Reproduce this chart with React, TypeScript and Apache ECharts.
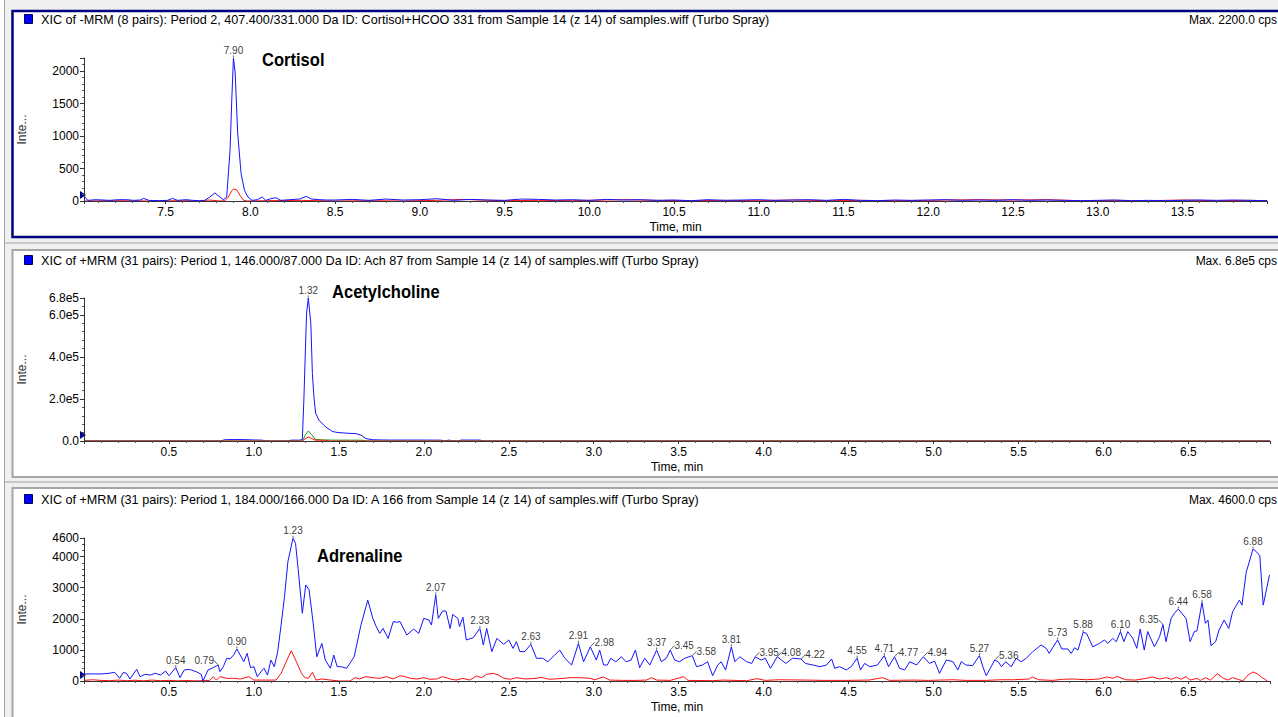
import React, { useEffect, useRef } from "react";
import * as echarts from "echarts";

const FONT = "'Liberation Sans', Arial, sans-serif";

const headerTexts = [
  "XIC of -MRM (8 pairs): Period 2, 407.400/331.000 Da ID: Cortisol+HCOO 331 from Sample 14 (z 14) of samples.wiff (Turbo Spray)",
  "XIC of +MRM (31 pairs): Period 1, 146.000/87.000 Da ID: Ach 87 from Sample 14 (z 14) of samples.wiff (Turbo Spray)",
  "XIC of +MRM (31 pairs): Period 1, 184.000/166.000 Da ID: A 166 from Sample 14 (z 14) of samples.wiff (Turbo Spray)",
];
const maxTexts = ["Max. 2200.0 cps", "Max. 6.8e5 cps", "Max. 4600.0 cps"];
const compoundNames = ["Cortisol", "Acetylcholine", "Adrenaline"];
const xAxisName = "Time, min";
const yAxisName = "Inte...";

// Panel 1: Cortisol (time, intensity)
const cortisolBlue = [
  [7.02, 72], [7.04, 10], [7.09, 20], [7.13, 15], [7.17, 10], [7.22, 20], [7.27, 20], [7.31, 10],
  [7.35, 15], [7.37, 40], [7.4, 10], [7.46, 5], [7.51, 10], [7.54, 40], [7.57, 10], [7.62, 20],
  [7.66, 10], [7.7, 5], [7.73, 10], [7.76, 60], [7.79, 124], [7.82, 62], [7.84, 20], [7.86, 60],
  [7.88, 780], [7.89, 1555], [7.9, 2200], [7.91, 1970], [7.925, 1040], [7.945, 420], [7.965, 165],
  [7.985, 62], [8.01, 10], [8.04, 20], [8.07, 62], [8.09, 10], [8.12, 35], [8.15, 50], [8.18, 10],
  [8.23, 20], [8.29, 30], [8.33, 72], [8.36, 30], [8.41, 20], [8.45, 15], [8.5, 15], [8.6, 25],
  [8.7, 10], [8.8, 30], [8.9, 15], [9.0, 20], [9.1, 35], [9.2, 10], [9.3, 25], [9.4, 15], [9.5, 10],
  [9.6, 30], [9.7, 25], [9.8, 15], [9.9, 20], [10.0, 10], [10.1, 25], [10.2, 15], [10.3, 20],
  [10.4, 10], [10.5, 15], [10.6, 5], [10.7, 20], [10.8, 10], [10.9, 15], [11.0, 20], [11.1, 10],
  [11.2, 15], [11.3, 20], [11.4, 10], [11.5, 25], [11.6, 10], [11.7, 5], [11.8, 15], [11.9, 10],
  [12.0, 15], [12.1, 20], [12.2, 10], [12.3, 15], [12.4, 10], [12.5, 20], [12.6, 10], [12.7, 15],
  [12.8, 10], [12.9, 5], [13.0, 10], [13.1, 15], [13.2, 5], [13.3, 10], [13.4, 5], [13.5, 10],
  [13.6, 15], [13.7, 10], [13.8, 15], [13.9, 10], [14.0, 5],
];
const cortisolRed = [
  [7.02, 0], [7.2, 5], [7.4, 0], [7.6, 5], [7.72, 0], [7.75, 15], [7.78, 10], [7.82, 0], [7.85, 5],
  [7.87, 60], [7.89, 160], [7.9, 185], [7.92, 170], [7.94, 80], [7.96, 10], [7.98, 0], [8.1, 5],
  [8.3, 10], [8.5, 0], [8.7, 5], [8.9, 0], [9.1, 10], [9.2, 20], [9.25, 25], [9.3, 20], [9.35, 15],
  [9.5, 5], [9.7, 10], [9.9, 5], [10.1, 15], [10.2, 20], [10.3, 15], [10.4, 10], [10.6, 5],
  [10.8, 10], [11.0, 5], [11.2, 15], [11.4, 5], [11.6, 10], [11.8, 5], [12.0, 10], [12.1, 15],
  [12.3, 20], [12.5, 15], [12.7, 20], [12.9, 5], [13.1, 10], [13.3, 5], [13.5, 15], [13.7, 5],
  [13.9, 10], [14.0, 5],
];
const cortisolPeakTimes = [7.9];
const cortisolPeakValues = [2200];

// Panel 2: Acetylcholine
const achBlue = [
  [0, 0], [0.8, 0], [0.83, 6000], [0.88, 7000], [0.95, 6500], [1.0, 5000], [1.05, 4000], [1.07, 0],
  [1.2, 0], [1.22, 4000], [1.27, 4000], [1.285, 8000], [1.294, 195000], [1.303, 433000],
  [1.31, 608000], [1.32, 680000], [1.335, 560000], [1.344, 322000], [1.353, 211000],
  [1.363, 133000], [1.382, 100000], [1.41, 76000], [1.43, 62000], [1.45, 52000], [1.46, 46000],
  [1.48, 42000], [1.5, 40000], [1.55, 37000], [1.6, 35000], [1.63, 28000], [1.66, 11000],
  [1.7, 6000], [1.75, 5000], [1.8, 4500], [1.9, 4500], [2.0, 4500], [2.1, 4000], [2.12, 0],
  [2.15, 4500], [2.16, 0], [2.2, 0], [2.22, 4500], [2.33, 4500], [2.35, 0], [6.98, 0],
];
const achGreen = [
  [0, 0], [1.28, 0], [1.29, 5000], [1.3, 25000], [1.32, 48000], [1.34, 30000], [1.36, 8000],
  [1.4, 5000], [1.45, 4500], [1.5, 4000], [1.6, 4000], [1.64, 3500], [1.66, 0], [6.98, 0],
];
const achRed = [
  [0, 0], [1.28, 0], [1.29, 2000], [1.3, 10000], [1.32, 19000], [1.34, 12000], [1.36, 4000],
  [1.42, 3500], [1.44, 0], [6.98, 0],
];
const achPeakTimes = [1.32];
const achPeakValues = [680000];

// Panel 3: Adrenaline
const adrBlue = [
  [0, 225], [0.05, 230], [0.1, 225], [0.15, 250], [0.18, 280], [0.21, 85], [0.23, 270], [0.25, 250],
  [0.27, 64], [0.31, 375], [0.33, 140], [0.36, 215], [0.39, 190], [0.42, 250], [0.45, 190],
  [0.48, 320], [0.5, 170], [0.54, 430], [0.565, 107], [0.59, 355], [0.62, 375], [0.66, 300],
  [0.69, 215], [0.7, 0], [0.73, 355], [0.76, 430], [0.79, 515], [0.8, 300], [0.82, 460],
  [0.84, 730], [0.86, 710], [0.88, 835], [0.9, 1030], [0.94, 620], [0.96, 890], [0.98, 430],
  [1.0, 460], [1.02, 140], [1.05, 355], [1.06, 410], [1.08, 190], [1.1, 675], [1.12, 460],
  [1.14, 945], [1.16, 1800], [1.18, 2710], [1.2, 3840], [1.23, 4590], [1.245, 4430], [1.26, 3620],
  [1.285, 2180], [1.305, 3090], [1.325, 2930], [1.35, 1800], [1.37, 780], [1.4, 1210], [1.42, 675],
  [1.45, 410], [1.47, 835], [1.49, 460], [1.515, 460], [1.545, 410], [1.565, 570], [1.59, 780],
  [1.63, 1800], [1.67, 2600], [1.7, 2015], [1.72, 1750], [1.74, 1530], [1.76, 1690], [1.79, 1370],
  [1.82, 1910], [1.84, 1890], [1.86, 1910], [1.9, 1480], [1.94, 1670], [1.97, 1530], [2.0, 2015],
  [2.03, 1960], [2.045, 1800], [2.07, 2770], [2.085, 2015], [2.11, 2250], [2.13, 2250],
  [2.155, 1690], [2.17, 2140], [2.2, 2015], [2.21, 1750], [2.23, 2050], [2.25, 1320], [2.29, 1390],
  [2.33, 1690], [2.35, 1160], [2.37, 1690], [2.4, 945], [2.43, 1370], [2.47, 1180], [2.5, 1320],
  [2.525, 1050], [2.545, 1265], [2.565, 945], [2.594, 945], [2.63, 1180], [2.663, 730], [2.7, 730],
  [2.73, 620], [2.77, 835], [2.8, 995], [2.83, 730], [2.87, 515], [2.91, 1210], [2.94, 620],
  [2.98, 1100], [3.015, 675], [3.035, 995], [3.058, 515], [3.08, 515], [3.1, 730], [3.13, 620],
  [3.163, 780], [3.19, 620], [3.22, 675], [3.245, 995], [3.27, 430], [3.3, 730], [3.33, 515],
  [3.37, 995], [3.398, 620], [3.427, 730], [3.45, 995], [3.476, 675], [3.505, 620], [3.535, 730],
  [3.58, 815], [3.605, 460], [3.64, 515], [3.67, 620], [3.7, 170], [3.73, 515], [3.75, 620],
  [3.776, 355], [3.81, 1100], [3.83, 620], [3.86, 780], [3.9, 620], [3.93, 565], [3.95, 780],
  [3.985, 675], [4.01, 730], [4.04, 410], [4.08, 780], [4.105, 675], [4.13, 565], [4.17, 730],
  [4.22, 710], [4.245, 565], [4.29, 515], [4.33, 460], [4.37, 515], [4.4, 710], [4.418, 410],
  [4.447, 460], [4.486, 355], [4.515, 460], [4.55, 730], [4.57, 355], [4.594, 565], [4.624, 460],
  [4.67, 515], [4.71, 815], [4.735, 460], [4.77, 780], [4.8, 410], [4.83, 355], [4.86, 620],
  [4.9, 515], [4.94, 780], [4.976, 565], [5.006, 640], [5.035, 245], [5.075, 675], [5.114, 620],
  [5.143, 355], [5.163, 620], [5.19, 515], [5.23, 495], [5.27, 815], [5.29, 460], [5.31, 170],
  [5.36, 675], [5.38, 620], [5.4, 460], [5.424, 620], [5.457, 460], [5.486, 730], [5.515, 620],
  [5.545, 730], [5.584, 945], [5.633, 1160], [5.663, 1050], [5.68, 890], [5.73, 1320],
  [5.755, 1030], [5.79, 1030], [5.81, 890], [5.83, 1070], [5.85, 995], [5.88, 1565], [5.9, 1535],
  [5.937, 1100], [5.976, 1210], [6.006, 1320], [6.025, 1210], [6.055, 1370], [6.075, 1265],
  [6.1, 1590], [6.12, 1265], [6.143, 1590], [6.173, 1370], [6.196, 1050], [6.216, 1670],
  [6.24, 995], [6.26, 1590], [6.3, 1100], [6.33, 1425], [6.35, 1820], [6.368, 1265], [6.398, 2015],
  [6.418, 2180], [6.44, 2315], [6.486, 2015], [6.51, 1265], [6.535, 1590], [6.55, 1610],
  [6.58, 2530], [6.6, 1855], [6.615, 1960], [6.633, 1135], [6.66, 1265], [6.68, 1640], [6.71, 1960],
  [6.737, 1690], [6.76, 2230], [6.8, 2600], [6.815, 2440], [6.84, 3495], [6.88, 4245], [6.9, 4160],
  [6.92, 4030], [6.94, 2440], [6.977, 3410],
];
const adrRed = [
  [0, 20], [0.05, 40], [0.1, 20], [0.15, 10], [0.2, 30], [0.25, 10], [0.3, 25], [0.35, 5],
  [0.4, 30], [0.45, 10], [0.5, 20], [0.55, 5], [0.6, 15], [0.65, 5], [0.7, 10], [0.74, 20],
  [0.76, 140], [0.78, 30], [0.8, 140], [0.84, 85], [0.88, 85], [0.92, 65], [0.97, 140], [1.0, 30],
  [1.07, 30], [1.13, 30], [1.16, 245], [1.19, 620], [1.22, 975], [1.25, 620], [1.28, 245],
  [1.3, 107], [1.32, 85], [1.345, 280], [1.365, 30], [1.4, 65], [1.45, 30], [1.505, 0],
  [1.565, 0], [1.595, 107], [1.62, 65], [1.66, 140], [1.7, 107], [1.74, 85], [1.78, 140],
  [1.82, 65], [1.86, 170], [1.89, 140], [1.92, 85], [1.96, 65], [2.0, 107], [2.035, 55],
  [2.075, 65], [2.11, 140], [2.155, 65], [2.19, 30], [2.23, 85], [2.27, 30], [2.31, 160],
  [2.34, 107], [2.37, 215], [2.41, 245], [2.44, 190], [2.47, 85], [2.51, 55], [2.545, 107],
  [2.6, 65], [2.66, 85], [2.69, 115], [2.74, 55], [2.82, 85], [2.86, 107], [2.92, 107], [2.98, 85],
  [3.006, 40], [3.055, 130], [3.094, 30], [3.17, 20], [3.25, 20], [3.31, 30], [3.34, 107],
  [3.37, 30], [3.45, 20], [3.53, 140], [3.555, 20], [3.7, 10], [3.76, 30], [3.9, 10], [3.96, 75],
  [4.01, 20], [4.09, 40], [4.25, 30], [4.35, 20], [4.49, 20], [4.62, 30], [4.7, 107], [4.74, 20],
  [4.88, 30], [4.97, 20], [5.04, 30], [5.114, 40], [5.19, 20], [5.31, 20], [5.39, 40], [5.47, 40],
  [5.565, 65], [5.58, 130], [5.62, 40], [5.7, 20], [5.76, 55], [5.82, 65], [5.9, 40], [5.976, 65],
  [6.02, 130], [6.055, 85], [6.08, 150], [6.13, 40], [6.19, 30], [6.25, 85], [6.29, 130],
  [6.33, 65], [6.37, 107], [6.4, 55], [6.43, 120], [6.457, 55], [6.486, 140], [6.51, 30],
  [6.55, 85], [6.57, 20], [6.6, 107], [6.63, 30], [6.67, 235], [6.7, 107], [6.73, 30],
  [6.76, 107], [6.8, 40], [6.82, 0], [6.85, 190], [6.88, 290], [6.905, 235], [6.935, 107],
  [6.965, 0],
];
const adrPeakTimes = [
  0.54, 0.79, 0.9, 1.23, 2.07, 2.33, 2.63, 2.91, 2.98, 3.37, 3.45, 3.58, 3.81, 3.95, 4.08, 4.22,
  4.55, 4.71, 4.77, 4.94, 5.27, 5.36, 5.73, 5.88, 6.1, 6.35, 6.44, 6.58, 6.88,
];
const adrPeakValues = [
  430, 515, 1030, 4590, 2770, 1690, 1180, 1210, 1100, 995, 995, 815, 1100, 780, 780, 710, 730,
  815, 780, 780, 815, 675, 1320, 1565, 1590, 1820, 2315, 2530, 4245,
];
// which side the peak label is pushed to: l = left, r = right, c = centred
const adrLabelSide = [
  "c", "l", "c", "c", "c", "c", "c", "c", "r", "c", "r", "r", "c", "r", "r", "r", "c", "c", "r",
  "r", "c", "r", "c", "c", "c", "l", "c", "c", "c",
];

const BLUE = "#1414ff";
const RED = "#ff1010";
const GREEN = "#10a010";

function buildOption() {
  const grids = [
    { left: 84, right: 11, top: 58, height: 143 },
    { left: 84, right: 8, top: 298, height: 143 },
    { left: 84, right: 8, top: 538, height: 143 },
  ];
  const xRanges = [
    [7.018, 13.999],
    [0, 6.98],
  ];
  const mkX = (gi: number, min: number, max: number, extra: any) => ({
    type: "value",
    gridIndex: gi,
    min,
    max,
    z: 5,
    name: xAxisName,
    nameLocation: "middle",
    nameGap: 20,
    nameTextStyle: { fontFamily: FONT, fontSize: 12, color: "#000" },
    axisLine: { show: true, onZero: false, lineStyle: { color: "#333", width: 1 } },
    axisTick: { show: true, length: 3, lineStyle: { color: "#333" } },
    minorTick: { show: true, splitNumber: 5, length: 2, lineStyle: { color: "#555" } },
    axisLabel: {
      fontFamily: FONT,
      fontSize: 12,
      color: "#000",
      margin: 5,
      showMinLabel: false,
      showMaxLabel: false,
      formatter: (v: number) => v.toFixed(1),
    },
    splitLine: { show: false },
    ...extra,
  });
  const mkY = (gi: number, max: number, interval: number, showMax: boolean, fmt: any) => ({
    type: "value",
    gridIndex: gi,
    min: 0,
    max,
    interval,
    z: 5,
    name: yAxisName,
    nameLocation: "middle",
    nameGap: 56,
    nameTextStyle: { fontFamily: FONT, fontSize: 12, color: "#333" },
    axisLine: { show: true, onZero: false, lineStyle: { color: "#333", width: 1 } },
    axisTick: { show: true, length: 4, lineStyle: { color: "#333" } },
    minorTick: { show: true, splitNumber: 5, length: 2, lineStyle: { color: "#555" } },
    axisLabel: {
      fontFamily: FONT,
      fontSize: 12,
      color: "#000",
      margin: 5,
      showMaxLabel: showMax,
      formatter: fmt,
    },
    splitLine: { show: false },
  });

  const line = (gi: number, data: number[][], color: string, z: number, marker?: number) => {
    const s: any = {
      type: "line",
      xAxisIndex: gi,
      yAxisIndex: gi,
      data,
      symbol: "none",
      showSymbol: false,
      silent: true,
      z,
      lineStyle: { width: 1, color },
      itemStyle: { color },
    };
    if (marker !== undefined) {
      s.markPoint = {
        symbol: "triangle",
        symbolSize: [8, 6],
        symbolRotate: -90,
        symbolOffset: [-1, -6],
        silent: true,
        itemStyle: { color: "#00008b" },
        label: { show: false },
        data: [{ coord: [marker, 0] }],
      };
    }
    return s;
  };

  const peaks = (gi: number, times: number[], values: number[], sides?: string[]) => ({
    type: "scatter",
    xAxisIndex: gi,
    yAxisIndex: gi,
    symbol: "circle",
    symbolSize: 1,
    silent: true,
    z: 6,
    itemStyle: { color: "rgba(0,0,0,0)" },
    label: {
      show: true,
      position: "top",
      distance: 2,
      fontFamily: FONT,
      fontSize: 10,
      color: "#000",
      formatter: (p: any) => Number(p.value[0]).toFixed(2),
    },
    labelLine: { show: true, length2: 0, lineStyle: { color: "#333", width: 0.8 } },
    labelLayout: (p: any) => {
      const side = sides ? sides[p.dataIndex] : "c";
      if (side === "r") return { dx: 14, dy: 3 };
      if (side === "l") return { dx: -14, dy: 3 };
      return {};
    },
    data: times.map((t, i) => [t, values[i]]),
  });

  const headerY = [20, 261, 500];
  const panelRects = [
    { y: 11, h: 226, stroke: "#000080", lw: 2.5 },
    { y: 250, h: 227, stroke: "#a6a6a6", lw: 2 },
    { y: 488, h: 240, stroke: "#a6a6a6", lw: 2 },
  ];
  const namePos = [
    { x: 262, y: 60 },
    { x: 332, y: 292 },
    { x: 317, y: 556 },
  ];

  const graphic: any[] = [
    {
      type: "rect",
      shape: { x: 4.5, y: -2, width: 1290, height: 725 },
      style: { fill: "#f0f0f0", stroke: "#a0a0a0", lineWidth: 1 },
      z: -100,
      silent: true,
    },
    { type: "line", shape: { x1: 5, y1: 243, x2: 1290, y2: 243 }, style: { stroke: "#a0a0a0", lineWidth: 1 }, z: -99, silent: true },
    { type: "line", shape: { x1: 5, y1: 482, x2: 1290, y2: 482 }, style: { stroke: "#a0a0a0", lineWidth: 1 }, z: -99, silent: true },
  ];
  panelRects.forEach((r) => {
    graphic.push({
      type: "rect",
      shape: { x: 12.5, y: r.y, width: 1290, height: r.h },
      style: { fill: "#ffffff", stroke: r.stroke, lineWidth: r.lw },
      z: -90,
      silent: true,
    });
  });
  headerTexts.forEach((t, i) => {
    graphic.push({
      type: "rect",
      shape: { x: 24.5, y: headerY[i] - 5.5, width: 8, height: 9 },
      style: { fill: "#0000ff", stroke: "#000060", lineWidth: 1 },
      z: 10,
      silent: true,
    });
    graphic.push({
      type: "text",
      x: 41,
      y: headerY[i],
      z: 10,
      silent: true,
      style: { text: t, fontFamily: FONT, fontSize: 12.6, fill: "#000", align: "left", verticalAlign: "middle" },
    });
    graphic.push({
      type: "text",
      x: 1277,
      y: headerY[i],
      z: 10,
      silent: true,
      style: { text: maxTexts[i], fontFamily: FONT, fontSize: 12, fill: "#000", align: "right", verticalAlign: "middle" },
    });
    graphic.push({
      type: "text",
      x: namePos[i].x,
      y: namePos[i].y,
      scaleX: 0.92,
      z: 10,
      silent: true,
      style: {
        text: compoundNames[i],
        fontFamily: FONT,
        fontSize: 18,
        fontWeight: "bold",
        fill: "#000",
        align: "left",
        verticalAlign: "middle",
      },
    });
  });

  return {
    animation: false,
    backgroundColor: "#ffffff",
    grid: grids,
    xAxis: [
      mkX(0, xRanges[0][0], xRanges[0][1], { splitNumber: 14 }),
      mkX(1, xRanges[1][0], xRanges[1][1], { interval: 0.5 }),
      mkX(2, xRanges[1][0], xRanges[1][1], { interval: 0.5 }),
    ],
    yAxis: [
      mkY(0, 2200, 500, false, (v: number) => String(v)),
      mkY(1, 680000, 200000, true, (v: number) => (v === 0 ? "0.0" : (v / 1e5).toFixed(1) + "e5")),
      mkY(2, 4600, 1000, true, (v: number) => String(v)),
    ],
    graphic,
    series: [
      line(0, cortisolRed, RED, 2),
      line(0, cortisolBlue, BLUE, 3, xRanges[0][0]),
      peaks(0, cortisolPeakTimes, cortisolPeakValues),
      line(1, achBlue, BLUE, 2, xRanges[1][0]),
      line(1, achGreen, GREEN, 3),
      line(1, achRed, RED, 4),
      peaks(1, achPeakTimes, achPeakValues),
      line(2, adrRed, RED, 2),
      line(2, adrBlue, BLUE, 3, xRanges[1][0]),
      peaks(2, adrPeakTimes, adrPeakValues, adrLabelSide),
    ],
  };
}

export default function App() {
  const ref = useRef<HTMLDivElement>(null);
  useEffect(() => {
    if (!ref.current) return;
    const chart = echarts.init(ref.current, undefined, { renderer: "svg" });
    chart.setOption(buildOption() as any);
    return () => chart.dispose();
  }, []);
  return (
    <div
      ref={ref}
      style={{ position: "fixed", left: 0, top: 0, width: 1278, height: 717 }}
    />
  );
}
